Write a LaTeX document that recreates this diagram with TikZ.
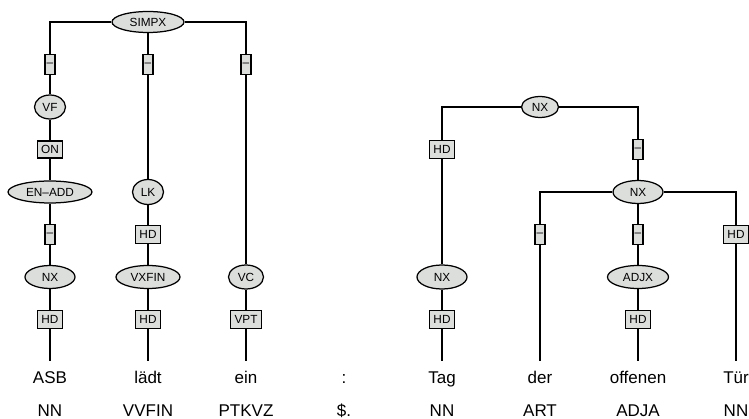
\documentclass[tikz,border=0pt]{standalone}
\usepackage{fontspec}
\setmainfont{Liberation Sans}
\usepackage{xcolor}
\usepackage{tikz}
\usetikzlibrary{shapes.geometric, positioning}
\definecolor{catgray}{RGB}{220,222,220}

\begin{document}
\begin{tikzpicture}[
  x=1pt, y=-1pt,
  every path/.style={line width=1.25pt},
  cat/.style={ellipse, draw=black, fill=catgray, inner sep=0pt,
              minimum height=23pt, font=\fontsize{11.8}{13}\selectfont},
  edgelab/.style={rectangle, draw=black, fill=catgray, inner xsep=4pt, inner ysep=0pt,
                  minimum height=18.5pt, font=\fontsize{11.8}{13}\selectfont},
  blank/.style={edgelab, inner xsep=1.8pt, minimum height=19.5pt},
  word/.style={anchor=base, inner xsep=0pt, inner ysep=9pt, text height=12pt,
               font=\fontsize{17}{19}\selectfont},
  tag/.style={anchor=base, inner sep=0pt, font=\fontsize{17}{19}\selectfont},
]
  \useasboundingbox (0,0) rectangle (749,419);

  % left tree: SIMPX
  \node[cat, minimum width=72pt, minimum height=21pt] (simpx) at (148,22) {SIMPX};
  \node[blank] (e11) at (50,64.5)  {–};
  \node[blank] (e12) at (148,64.5) {–};
  \node[blank] (e13) at (246,64.5) {–};

  \node[cat, minimum width=31pt, minimum height=24pt] (vf) at (50,107) {VF};
  \node[edgelab, minimum height=17pt] (on) at (50,149.5) {ON};
  \node[cat, minimum width=84pt, minimum height=22pt] (enadd) at (50,192) {EN–ADD};
  \node[blank] (e14) at (50,234.5) {–};
  \node[cat, minimum width=50pt] (nx1) at (50,277) {NX};
  \node[edgelab] (hd1) at (50,319.5) {HD};

  \node[cat, minimum width=31pt, minimum height=25pt] (lk) at (148,192) {LK};
  \node[edgelab] (hd2) at (148,234.5) {HD};
  \node[cat, minimum width=64pt] (vxfin) at (148,277) {VXFIN};
  \node[edgelab] (hd3) at (148,319.5) {HD};

  \node[cat, minimum width=35pt, minimum height=24pt] (vc) at (246,277) {VC};
  \node[edgelab] (vpt) at (246,319.5) {VPT};

  % right tree: NX
  \node[cat, minimum width=37pt, minimum height=21pt] (nxa) at (540,107) {NX};
  \node[edgelab] (hd4) at (442,149.5) {HD};
  \node[blank] (e21) at (638,149.5) {–};
  \node[cat, minimum width=50pt] (nxb) at (638,192) {NX};
  \node[blank] (e22) at (540,234.5) {–};
  \node[blank] (e23) at (638,234.5) {–};
  \node[edgelab] (hd6) at (736,234.5) {HD};
  \node[cat, minimum width=50pt, minimum height=24pt] (nxc) at (442,277) {NX};
  \node[edgelab] (hd5) at (442,319.5) {HD};
  \node[cat, minimum width=61pt] (adjx) at (638,277) {ADJX};
  \node[edgelab] (hd7) at (638,319.5) {HD};

  % words and tags
  \node[word] (w1) at (50,383)  {ASB};
  \node[word] (w2) at (148,383) {lädt};
  \node[word] (w3) at (246,383) {ein};
  \node[word] (w4) at (344,383) {:};
  \node[word] (w5) at (442,383) {Tag};
  \node[word] (w6) at (540,383) {der};
  \node[word] (w7) at (638,383) {offenen};
  \node[word] (w8) at (736,383) {Tür};

  \node[tag] (t1) at (50,416)  {NN};
  \node[tag] (t2) at (148,416) {VVFIN};
  \node[tag] (t3) at (246,416) {PTKVZ};
  \node[tag] (t4) at (344,416) {\$.};
  \node[tag] (t5) at (442,416) {NN};
  \node[tag] (t6) at (540,416) {ART};
  \node[tag] (t7) at (638,416) {ADJA};
  \node[tag] (t8) at (736,416) {NN};

  % edges
  \draw (simpx) -| (e11);
  \draw (simpx) -- (e12);
  \draw (simpx) -| (e13);
  \draw (e11) -- (vf) -- (on) -- (enadd) -- (e14) -- (nx1) -- (hd1) -- (w1);
  \draw (e12) -- (lk) -- (hd2) -- (vxfin) -- (hd3) -- (w2);
  \draw (e13) -- (vc) -- (vpt) -- (w3);

  \draw (nxa) -| (hd4);
  \draw (nxa) -| (e21);
  \draw (hd4) -- (nxc) -- (hd5) -- (w5);
  \draw (e21) -- (nxb);
  \draw (nxb) -| (e22);
  \draw (nxb) -- (e23);
  \draw (nxb) -| (hd6);
  \draw (e22) -- (w6);
  \draw (e23) -- (adjx) -- (hd7) -- (w7);
  \draw (hd6) -- (w8);
\end{tikzpicture}
\end{document}
